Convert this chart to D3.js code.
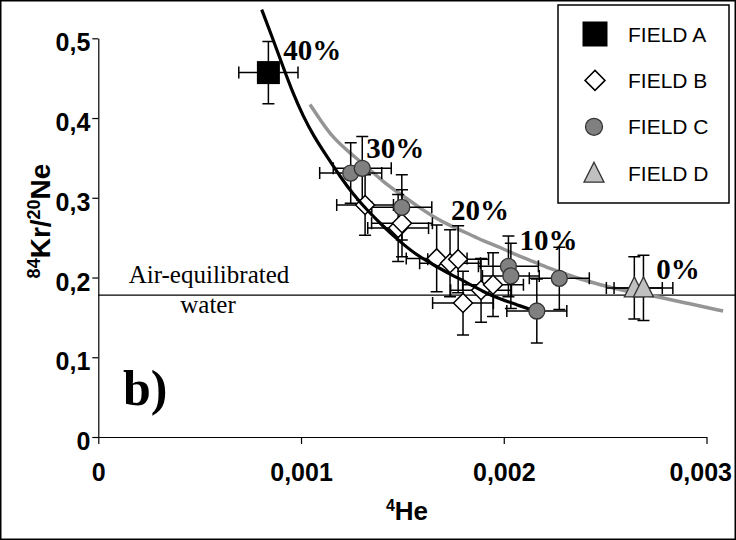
<!DOCTYPE html>
<html>
<head>
<meta charset="utf-8">
<script src="https://cdn.jsdelivr.net/npm/d3@7/dist/d3.min.js"></script>
<style>
  html, body { margin: 0; padding: 0; background: #fff; }
  svg { display: block; }
</style>
</head>
<body>
<svg id="chart" width="736" height="540"></svg>
<script>
// ---------- DATA ----------
const xTickValues = [0, 0.001, 0.002, 0.003];
const xTickLabels = ["0", "0,001", "0,002", "0,003"];
const yTickValues = [0, 0.1, 0.2, 0.3, 0.4, 0.5];
const yTickLabels = ["0", "0,1", "0,2", "0,3", "0,4", "0,5"];

// Field A: [He, Kr/Ne, errHe, errKrNe]
const fieldA = [[0.000839, 0.457, 0.000146, 0.039]];
const fieldB = [
  [0.001316, 0.291, 0.000140, 0.038],
  [0.001479, 0.262, 0.000150, 0.042],
  [0.001498, 0.268, 0.000150, 0.042],
  [0.001669, 0.224, 0.000150, 0.042],
  [0.001735, 0.218, 0.000150, 0.042],
  [0.001775, 0.223, 0.000150, 0.042],
  [0.001799, 0.168, 0.000150, 0.040],
  [0.001888, 0.184, 0.000150, 0.040],
  [0.001947, 0.191, 0.000150, 0.040]
];
const fieldC = [
  [0.001245, 0.331, 0.000153, 0.038],
  [0.001302, 0.337, 0.000143, 0.040],
  [0.001497, 0.288, 0.000148, 0.041],
  [0.002023, 0.214, 0.000148, 0.038],
  [0.002035, 0.202, 0.000140, 0.041],
  [0.002274, 0.199, 0.000148, 0.039],
  [0.002163, 0.158, 0.000148, 0.040]
];
const fieldD = [
  [0.002644, 0.187, 0.000138, 0.039],
  [0.002689, 0.187, 0.000145, 0.041]
];

// mixing curves [He, Kr/Ne]
const blackCurve = [
  [0.000806, 0.536], [0.000863, 0.498], [0.000913, 0.463], [0.000962, 0.430],
  [0.001011, 0.402], [0.001061, 0.378], [0.001127, 0.352], [0.001192, 0.327],
  [0.001258, 0.304], [0.001324, 0.285], [0.001406, 0.264], [0.001488, 0.245],
  [0.001571, 0.228], [0.001653, 0.216], [0.001736, 0.204], [0.001817, 0.194],
  [0.001899, 0.182], [0.001982, 0.173], [0.002064, 0.166], [0.002163, 0.157]
];
const grayCurve = [
  [0.001044, 0.417], [0.001094, 0.398], [0.001158, 0.375], [0.001242, 0.356],
  [0.001324, 0.339], [0.001405, 0.320], [0.001488, 0.305], [0.001571, 0.290],
  [0.001653, 0.276], [0.001735, 0.265], [0.001817, 0.256], [0.001898, 0.246],
  [0.001982, 0.238], [0.002064, 0.228], [0.002145, 0.220], [0.002228, 0.211],
  [0.002311, 0.204], [0.002391, 0.197], [0.002475, 0.191], [0.002600, 0.183],
  [0.002756, 0.176], [0.002900, 0.168], [0.003082, 0.158]
];

const airWater = 0.178;
const percentLabels = [
  {t: "40%", x: 0.000912, y: 0.473},
  {t: "30%", x: 0.001322, y: 0.350},
  {t: "20%", x: 0.001740, y: 0.272},
  {t: "10%", x: 0.002077, y: 0.234},
  {t: "0%",  x: 0.002752, y: 0.198}
];
const legendItems = ["FIELD A", "FIELD B", "FIELD C", "FIELD D"];

// ---------- DRAW ----------
const svg = d3.select("#chart");
const x = d3.scaleLinear().domain([0, 0.003]).range([98.3, 706.5]);
const y = d3.scaleLinear().domain([0, 0.5]).range([437, 38.3]);

// outer frame
svg.append("rect").attr("x", 0.75).attr("y", 0.75).attr("width", 734.5).attr("height", 538.5)
  .attr("fill", "none").attr("stroke", "#000").attr("stroke-width", 1.5);

// air-equilibrated water line
svg.append("line").attr("x1", x(0)).attr("x2", 736).attr("y1", y(airWater)).attr("y2", y(airWater))
  .attr("stroke", "#000").attr("stroke-width", 1.3);
svg.append("text").attr("x", 209).attr("y", 283).attr("text-anchor", "middle")
  .attr("font-family", "Liberation Serif, Times New Roman, serif").attr("font-size", 25)
  .text("Air-equilibrated");
svg.append("text").attr("x", 208).attr("y", 313).attr("text-anchor", "middle")
  .attr("font-family", "Liberation Serif, Times New Roman, serif").attr("font-size", 25)
  .text("water");

// b)
svg.append("text").attr("x", 123).attr("y", 405)
  .attr("font-family", "Liberation Serif, Times New Roman, serif").attr("font-size", 50)
  .attr("font-weight", "bold").text("b)");

// axes
const yAxis = d3.axisLeft(y).tickValues(yTickValues)
  .tickFormat((d, i) => yTickLabels[i]).tickSize(6).tickSizeOuter(0).tickPadding(2);
const gy = svg.append("g").attr("transform", `translate(${x(0)},0)`).call(yAxis);
gy.selectAll("text").attr("font-family", "Liberation Sans, Arial, sans-serif")
  .attr("font-size", 25).attr("font-weight", "bold").attr("fill", "#000").attr("dy", "0.5em");
gy.selectAll("line, path").attr("stroke", "#000").attr("stroke-width", 1.2);

const xAxis = d3.axisBottom(x).tickValues(xTickValues)
  .tickFormat((d, i) => xTickLabels[i]).tickSize(7).tickSizeOuter(0).tickPadding(19);
const gx = svg.append("g").attr("transform", `translate(0,${y(0)})`).call(xAxis);
gx.selectAll("text").attr("font-family", "Liberation Sans, Arial, sans-serif")
  .attr("font-size", 25).attr("font-weight", "bold").attr("fill", "#000");
gx.selectAll(".tick").filter((d, i) => i === xTickValues.length - 1)
  .select("text").attr("text-anchor", "end").attr("dx", 25);
gx.selectAll("line, path").attr("stroke", "#000").attr("stroke-width", 1.2);

// axis titles
const xt = svg.append("text").attr("x", 407).attr("y", 520).attr("text-anchor", "middle")
  .attr("font-family", "Liberation Sans, Arial, sans-serif").attr("font-size", 26)
  .attr("font-weight", "bold");
xt.append("tspan").attr("font-size", 16).attr("dy", -9).text("4");
xt.append("tspan").attr("dy", 9).text("He");

const yt = svg.append("text").attr("transform", "translate(50,221) rotate(-90)")
  .attr("text-anchor", "middle")
  .attr("font-family", "Liberation Sans, Arial, sans-serif").attr("font-size", 28)
  .attr("font-weight", "bold");
yt.append("tspan").attr("font-size", 18).attr("dy", -10).text("84");
yt.append("tspan").attr("dy", 10).text("Kr/");
yt.append("tspan").attr("font-size", 18).attr("dy", -10).text("20");
yt.append("tspan").attr("dy", 10).text("Ne");

// gray curve
const line = d3.line().x(d => x(d[0])).y(d => y(d[1])).curve(d3.curveBasis);
svg.append("path").datum(grayCurve).attr("d", line).attr("fill", "none")
  .attr("stroke", "#959595").attr("stroke-width", 3.5);

// error bars
const allPts = [].concat(fieldA, fieldB, fieldC, fieldD);
const cap = 6;
const eb = svg.append("g").attr("stroke", "#000").attr("stroke-width", 1.5).attr("fill", "none");
allPts.forEach(p => {
  const cx = x(p[0]), cy = y(p[1]);
  const x1 = x(p[0] - p[2]), x2 = x(p[0] + p[2]);
  const y1 = y(p[1] - p[3]), y2 = y(p[1] + p[3]);
  eb.append("path").attr("d",
    `M${x1},${cy}H${x2}M${x1},${cy - cap}V${cy + cap}M${x2},${cy - cap}V${cy + cap}` +
    `M${cx},${y1}V${y2}M${cx - cap},${y1}H${cx + cap}M${cx - cap},${y2}H${cx + cap}`);
});

// Field A square
svg.append("g").selectAll("rect").data(fieldA).join("rect")
  .attr("x", d => x(d[0]) - 11.5).attr("y", d => y(d[1]) - 11.5)
  .attr("width", 23).attr("height", 23).attr("fill", "#000");

// Field B diamonds
const diamond = s => `M0,${-s}L${s},0L0,${s}L${-s},0Z`;
svg.append("g").selectAll("path").data(fieldB).join("path")
  .attr("transform", d => `translate(${x(d[0])},${y(d[1])})`)
  .attr("d", diamond(9.5)).attr("fill", "#fff").attr("stroke", "#000").attr("stroke-width", 1.5);

// black curve
svg.append("path").datum(blackCurve).attr("d", line).attr("fill", "none")
  .attr("stroke", "#000").attr("stroke-width", 3.2);

// Field C circles
svg.append("g").selectAll("circle").data(fieldC).join("circle")
  .attr("cx", d => x(d[0])).attr("cy", d => y(d[1])).attr("r", 8)
  .attr("fill", "#808080").attr("stroke", "#333").attr("stroke-width", 1.3);

// Field D triangles
const tri = s => `M0,${-s * 1.1}L${s},${s * 0.9}L${-s},${s * 0.9}Z`;
svg.append("g").selectAll("path").data(fieldD).join("path")
  .attr("transform", d => `translate(${x(d[0])},${y(d[1])})`)
  .attr("d", tri(10)).attr("fill", "#c0c0c0").attr("stroke", "#333").attr("stroke-width", 1.3);

// percentage labels
svg.append("g").selectAll("text").data(percentLabels).join("text")
  .attr("x", d => x(d.x)).attr("y", d => y(d.y))
  .attr("font-family", "Liberation Serif, Times New Roman, serif").attr("font-size", 29)
  .attr("font-weight", "bold").text(d => d.t);

// legend
const lg = svg.append("g");
lg.append("rect").attr("x", 558).attr("y", 5).attr("width", 171).attr("height", 198)
  .attr("fill", "#fff").attr("stroke", "#000").attr("stroke-width", 1.5);
const rowY = i => 34 + i * 46.4;
lg.append("rect").attr("x", 595 - 12.5).attr("y", rowY(0) - 12.5).attr("width", 25).attr("height", 25).attr("fill", "#000");
lg.append("path").attr("transform", `translate(595,${rowY(1)})`).attr("d", diamond(10))
  .attr("fill", "#fff").attr("stroke", "#000").attr("stroke-width", 1.5);
lg.append("circle").attr("cx", 594).attr("cy", rowY(2)).attr("r", 8.5)
  .attr("fill", "#808080").attr("stroke", "#333").attr("stroke-width", 1.3);
lg.append("path").attr("transform", `translate(594,${rowY(3)})`).attr("d", tri(10))
  .attr("fill", "#c0c0c0").attr("stroke", "#333").attr("stroke-width", 1.3);
lg.selectAll("text.lt").data(legendItems).join("text").attr("class", "lt")
  .attr("x", 628).attr("y", (d, i) => rowY(i)).attr("dy", "0.36em")
  .attr("font-family", "Liberation Sans, Arial, sans-serif").attr("font-size", 21)
  .text(d => d);
</script>
</body>
</html>
